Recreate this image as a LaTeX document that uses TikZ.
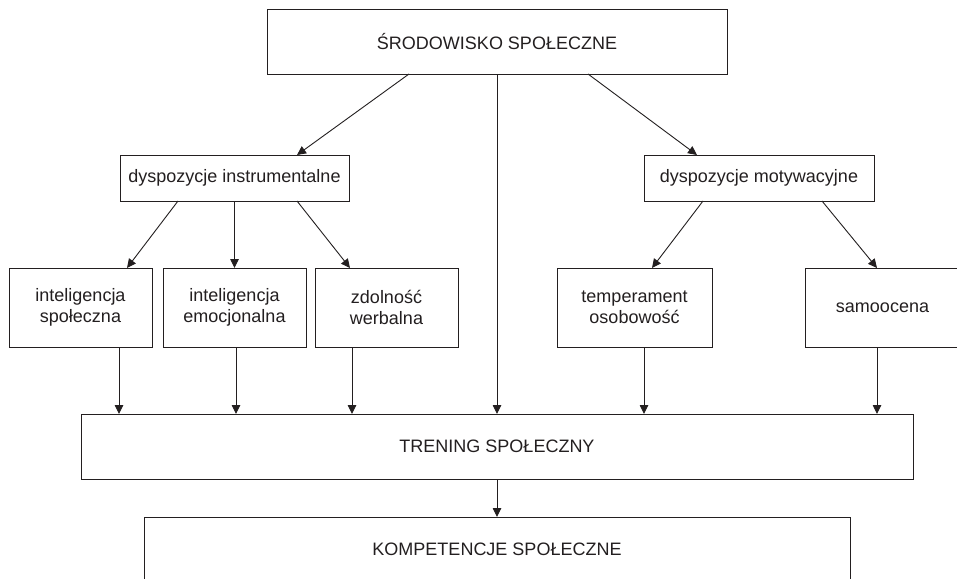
\documentclass[tikz,border=0pt]{standalone}
\usepackage{fontspec}
\setmainfont{Liberation Sans}
\usetikzlibrary{arrows.meta}
\definecolor{ink}{HTML}{231F20}
\begin{document}
\begin{tikzpicture}[x=1pt,y=-1pt,
  box/.style={draw=ink,line width=0.9pt,rectangle,inner sep=0pt,outer sep=0pt,
    text=ink,align=center,font=\fontsize{18}{21}\selectfont},
  arr/.style={draw=ink,line width=0.9pt,-{Triangle[length=9pt,width=8.5pt]}},
  ]
\useasboundingbox (0,0) rectangle (957,578);
\clip (0,0) rectangle (957,578);
\fill[white] (0,0) rectangle (957,578);
\node[box,minimum width=460pt,minimum height=65pt] (top) at (497,41.5) {ŚRODOWISKO SPOŁECZNE};
\node[box,minimum width=229pt,minimum height=46pt] (di) at (234.5,178) {dyspozycje instrumentalne};
\node[box,minimum width=230pt,minimum height=46pt] (dm) at (759,178) {dyspozycje motywacyjne};
\node[box,minimum width=143pt,minimum height=79pt] (is) at (80.5,307.5) {inteligencja\\społeczna};
\node[box,minimum width=143pt,minimum height=79pt] (ie) at (234.5,307.5) {inteligencja\\emocjonalna};
\node[box,minimum width=143pt,minimum height=79pt] (zw) at (386.5,307.5) {zdolność\\werbalna};
\node[box,minimum width=155pt,minimum height=79pt] (tp) at (634.5,307.5) {temperament\\osobowość};
\node[box,minimum width=155pt,minimum height=79pt] (sa) at (882.5,307.5) {samoocena};
\node[box,minimum width=832pt,minimum height=65pt] (tr) at (497,446.5) {TRENING SPOŁECZNY};
\node[box,minimum width=706pt,minimum height=65pt] (ko) at (497,549.5) {KOMPETENCJE SPOŁECZNE};

\draw[arr] ([xshift=-88pt]top.south) -- ([xshift=62.5pt]di.north);
\draw[arr] ([xshift=91pt]top.south) -- ([xshift=-62pt]dm.north);
\draw[arr] (top.south) -- (tr.north);

\draw[arr] ([xshift=-56.5pt]di.south) -- ([xshift=46.5pt]is.north);
\draw[arr] (di.south) -- (ie.north);
\draw[arr] ([xshift=62.5pt]di.south) -- ([xshift=-36.5pt]zw.north);
\draw[arr] ([xshift=-56pt]dm.south) -- ([xshift=17.5pt]tp.north);
\draw[arr] ([xshift=63pt]dm.south) -- ([xshift=-5.5pt]sa.north);

\draw[arr] ([xshift=38.5pt]is.south) coordinate (a1) -- (a1 |- tr.north);
\draw[arr] ([xshift=1.5pt]ie.south) coordinate (a2) -- (a2 |- tr.north);
\draw[arr] ([xshift=-34.5pt]zw.south) coordinate (a3) -- (a3 |- tr.north);
\draw[arr] ([xshift=9.5pt]tp.south) coordinate (a4) -- (a4 |- tr.north);
\draw[arr] ([xshift=-5.5pt]sa.south) coordinate (a5) -- (a5 |- tr.north);

\draw[arr] (tr.south) -- (ko.north);
\end{tikzpicture}
\end{document}
